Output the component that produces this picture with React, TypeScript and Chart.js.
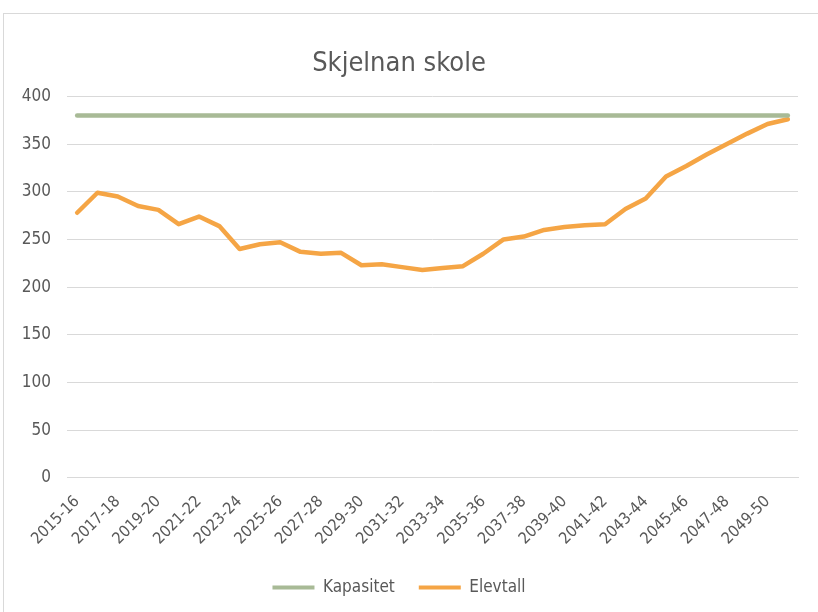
import React, { useEffect, useRef } from "react";
import { Chart, registerables } from "chart.js";

Chart.register(...registerables);

const title = "Skjelnan skole";
const categories = [
  "2015-16", "2016-17", "2017-18", "2018-19", "2019-20", "2020-21", "2021-22", "2022-23",
  "2023-24", "2024-25", "2025-26", "2026-27", "2027-28", "2028-29", "2029-30", "2030-31",
  "2031-32", "2032-33", "2033-34", "2034-35", "2035-36", "2036-37", "2037-38", "2038-39",
  "2039-40", "2040-41", "2041-42", "2042-43", "2043-44", "2044-45", "2045-46", "2046-47",
  "2047-48", "2048-49", "2049-50", "2050-51",
];
const kapasitet = [
  380, 380, 380, 380, 380, 380, 380, 380, 380, 380, 380, 380, 380, 380, 380, 380, 380, 380,
  380, 380, 380, 380, 380, 380, 380, 380, 380, 380, 380, 380, 380, 380, 380, 380, 380, 380,
];
const elevtall = [
  278, 299, 295, 285, 281, 266, 274, 264, 240, 245, 247, 237, 235, 236, 223, 224, 221, 218,
  220, 222, 235, 250, 253, 260, 263, 265, 266, 282, 293, 316, 327, 339, 350, 361, 371, 376,
];
const yTicks = [0, 50, 100, 150, 200, 250, 300, 350, 400];

const FONT = "'DejaVu Sans Condensed', 'Liberation Sans Narrow', 'Liberation Sans', sans-serif";
const TEXT = "#595959";
const GRID = "#d9d9d9";

export default function App() {
  const ref = useRef<HTMLCanvasElement>(null);
  useEffect(() => {
    if (!ref.current) return;
    const chart = new Chart(ref.current, {
      type: "line",
      data: {
        labels: categories,
        datasets: [
          {
            label: "Kapasitet",
            data: kapasitet,
            borderColor: "#A8BA96",
            backgroundColor: "#A8BA96",
            borderWidth: 4.5,
            borderCapStyle: "round",
            borderJoinStyle: "round",
            pointRadius: 0,
            tension: 0,
          },
          {
            label: "Elevtall",
            data: elevtall,
            borderColor: "#F5A545",
            backgroundColor: "#F5A545",
            borderWidth: 4.5,
            borderCapStyle: "round",
            borderJoinStyle: "round",
            pointRadius: 0,
            tension: 0,
          },
        ],
      },
      options: {
        animation: false,
        responsive: false,
        layout: { padding: { left: 0, right: 20, top: 48, bottom: 6 } },
        plugins: {
          title: {
            display: true,
            text: title,
            color: TEXT,
            font: { family: FONT, size: 27, weight: "normal" },
            padding: { top: 0, bottom: 16 },
          },
          legend: {
            position: "bottom",
            labels: {
              color: TEXT,
              font: { family: FONT, size: 17 },
              boxWidth: 42,
              boxHeight: 4,
              padding: 24,
              generateLabels: (c: any) =>
                c.data.datasets.map((d: any, i: number) => ({
                  text: d.label,
                  fillStyle: d.borderColor,
                  strokeStyle: d.borderColor,
                  lineWidth: 0,
                  fontColor: TEXT,
                  datasetIndex: i,
                  hidden: false,
                })),
            },
          },
          tooltip: { enabled: false },
        },
        scales: {
          x: {
            offset: true,
            grid: { display: false },
            border: { display: true, color: GRID, width: 1 },
            ticks: {
              color: TEXT,
              font: { family: FONT, size: 16 },
              autoSkip: false,
              maxRotation: 45,
              minRotation: 45,
              padding: 6.5,
              callback: (_v: any, i: number) => (i % 2 === 0 ? categories[i] : ""),
            },
          },
          y: {
            min: 0,
            max: 400,
            afterFit: (s: any) => {
              s.width = 67;
            },
            afterBuildTicks: (s: any) => {
              s.ticks = yTicks.map((v) => ({ value: v }));
            },
            grid: { color: GRID, lineWidth: 1, drawTicks: false },
            border: { display: false },
            ticks: {
              color: TEXT,
              font: { family: FONT, size: 17 },
              padding: 16,
            },
          },
        },
      },
    } as any);
    return () => chart.destroy();
  }, []);
  return (
    <div
      style={{
        position: "fixed",
        left: 0,
        top: 0,
        width: 818,
        height: 612,
        background: "#fff",
      }}
    >
      <div
        style={{
          position: "absolute",
          left: 3,
          top: 13,
          width: 830,
          height: 620,
          border: "1px solid #d9d9d9",
        }}
      />
      <canvas ref={ref} width={818} height={612} style={{ position: "absolute", left: 0, top: 0 }} />
    </div>
  );
}
